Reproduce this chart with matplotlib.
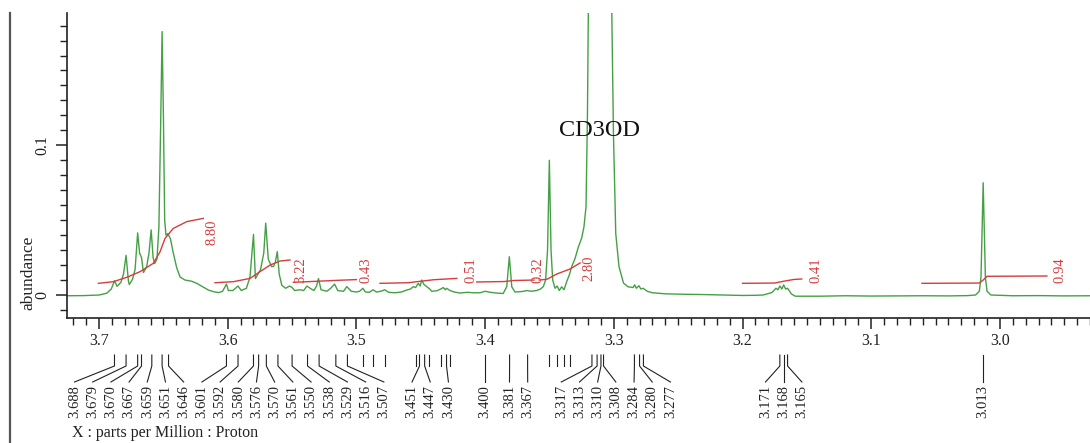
import matplotlib
matplotlib.use("Agg")
import matplotlib.pyplot as plt
import matplotlib.transforms as mtransforms
from matplotlib.lines import Line2D
from matplotlib.ticker import MultipleLocator, FixedLocator

plt.rcParams["font.family"] = ["Liberation Serif", "DejaVu Serif"]

# 1H NMR trace (ppm, abundance)
spec_ppm = [3.725, 3.712, 3.700, 3.694, 3.6905, 3.6880, 3.6860, 3.6830, 3.6810, 3.6790,
            3.6772, 3.6765, 3.6740, 3.6720, 3.6700, 3.6685, 3.6670, 3.6655, 3.6630, 3.6612,
            3.6595, 3.6580, 3.6568, 3.6550, 3.6535, 3.6522, 3.6510, 3.6500, 3.6490, 3.6480,
            3.6465, 3.6445, 3.6423, 3.6396, 3.6370, 3.6332, 3.6300, 3.6280, 3.6241, 3.6190,
            3.6150, 3.6110, 3.6070, 3.6040, 3.6010, 3.5995, 3.5960, 3.5940, 3.5920, 3.5895,
            3.5855, 3.5827, 3.5800, 3.5785, 3.5765, 3.5745, 3.5720, 3.5705, 3.5685, 3.5660,
            3.5645, 3.5630, 3.5615, 3.5600, 3.5580, 3.5550, 3.5520, 3.5500, 3.5480, 3.5440,
            3.5410, 3.5385, 3.5360, 3.5330, 3.5310, 3.5295, 3.5275, 3.5230, 3.5200, 3.5170,
            3.5145, 3.5100, 3.5075, 3.5040, 3.5000, 3.4975, 3.4950, 3.4930, 3.4900, 3.4870,
            3.4845, 3.4810, 3.4780, 3.4750, 3.4700, 3.4650, 3.4610, 3.4580, 3.4558, 3.4540,
            3.4520, 3.4505, 3.4493, 3.4475, 3.4454, 3.4430, 3.4415, 3.4376, 3.4345, 3.4325,
            3.4310, 3.4300, 3.4273, 3.4240, 3.4195, 3.4140, 3.4092, 3.4040, 3.4000, 3.3960,
            3.3910, 3.3860, 3.3832, 3.3812, 3.3793, 3.3768, 3.3730, 3.3700, 3.3677, 3.3640,
            3.3600, 3.3570, 3.3548, 3.3530, 3.3515, 3.3501, 3.3488, 3.3475, 3.3457, 3.3440,
            3.3424, 3.3405, 3.3387, 3.3366, 3.3346, 3.3327, 3.3301, 3.3276, 3.3250, 3.3232,
            3.3216, 3.3205, 3.3195, 3.3170, 3.3130, 3.3100, 3.3080, 3.3050, 3.3025, 3.3016,
            3.3003, 3.2985, 3.2960, 3.2925, 3.2890, 3.2850, 3.2838, 3.2825, 3.2805, 3.2790,
            3.2772, 3.2740, 3.2700, 3.2600, 3.2450, 3.2300, 3.2150, 3.2000, 3.1900, 3.1840,
            3.1773, 3.1740, 3.1725, 3.1710, 3.1695, 3.1680, 3.1665, 3.1650, 3.1620, 3.1590,
            3.1400, 3.1200, 3.1000, 3.0800, 3.0600, 3.0400, 3.0250, 3.0190, 3.0160, 3.0147,
            3.0138, 3.0130, 3.0122, 3.0113, 3.0100, 3.0070, 2.9900, 2.9700, 2.9500, 2.9300]
spec_abund = [-0.0005, -0.0004, 0.0000, 0.0012, 0.0040, 0.0095, 0.0058, 0.0085, 0.0140, 0.0265,
              0.0095, 0.0070, 0.0105, 0.0170, 0.0415, 0.0280, 0.0250, 0.0150, 0.0190, 0.0280,
              0.0435, 0.0250, 0.0210, 0.0240, 0.0450, 0.1100, 0.1760, 0.1200, 0.0500, 0.0400,
              0.0410, 0.0375, 0.0280, 0.0180, 0.0120, 0.0100, 0.0095, 0.0092, 0.0078, 0.0053,
              0.0033, 0.0022, 0.0016, 0.0025, 0.0073, 0.0030, 0.0030, 0.0045, 0.0060, 0.0030,
              0.0045, 0.0120, 0.0405, 0.0110, 0.0140, 0.0170, 0.0280, 0.0480, 0.0240, 0.0190,
              0.0190, 0.0220, 0.0290, 0.0140, 0.0065, 0.0045, 0.0060, 0.0050, 0.0030, 0.0035,
              0.0030, 0.0060, 0.0045, 0.0030, 0.0060, 0.0110, 0.0035, 0.0025, 0.0045, 0.0073,
              0.0030, 0.0025, 0.0056, 0.0025, 0.0020, 0.0025, 0.0045, 0.0020, 0.0018, 0.0035,
              0.0020, 0.0025, 0.0035, 0.0018, 0.0015, 0.0020, 0.0033, 0.0040, 0.0056, 0.0050,
              0.0078, 0.0060, 0.0100, 0.0070, 0.0056, 0.0040, 0.0025, 0.0028, 0.0040, 0.0050,
              0.0035, 0.0045, 0.0030, 0.0020, 0.0013, 0.0018, 0.0015, 0.0015, 0.0025, 0.0018,
              0.0013, 0.0010, 0.0055, 0.0256, 0.0055, 0.0020, 0.0022, 0.0025, 0.0030, 0.0025,
              0.0030, 0.0040, 0.0056, 0.0100, 0.0300, 0.0900, 0.0300, 0.0100, 0.0045, 0.0060,
              0.0030, 0.0055, 0.0035, 0.0090, 0.0134, 0.0190, 0.0245, 0.0320, 0.0380, 0.0456,
              0.0590, 0.1200, 0.2200, 0.4000, 0.7000, 0.9000, 0.7000, 0.4500, 0.2800, 0.1900,
              0.1080, 0.0410, 0.0190, 0.0080, 0.0055, 0.0050, 0.0068, 0.0045, 0.0062, 0.0040,
              0.0045, 0.0025, 0.0015, 0.0008, 0.0005, 0.0003, 0.0000, -0.0003, -0.0002, 0.0000,
              0.0016, 0.0045, 0.0035, 0.0060, 0.0040, 0.0067, 0.0040, 0.0045, 0.0007, -0.0008,
              -0.0008, -0.0005, -0.0007, -0.0006, -0.0005, -0.0006, -0.0004, 0.0000, 0.0025, 0.0120,
              0.0450, 0.0750, 0.0450, 0.0120, 0.0025, 0.0000, -0.0005, -0.0004, -0.0006, -0.0005]

# picked peaks (labelled) and extra picks without a label
peak_ppm = [3.688, 3.679, 3.670, 3.667, 3.659, 3.651, 3.646, 3.601, 3.592, 3.580,
            3.576, 3.570, 3.561, 3.550, 3.538, 3.529, 3.516, 3.507, 3.451, 3.447,
            3.430, 3.400, 3.381, 3.367, 3.317, 3.313, 3.310, 3.308, 3.284, 3.280,
            3.277, 3.171, 3.168, 3.165, 3.013]
unlabeled_ppm = [3.495, 3.487, 3.478, 3.454, 3.444, 3.434, 3.427, 3.350, 3.344, 3.339, 3.334]

# integral curves
int1_ppm = [3.7005, 3.6889, 3.6785, 3.6681, 3.6578, 3.6526, 3.6487, 3.6423, 3.6319, 3.6190]
int1_y = [0.0078, 0.0089, 0.0118, 0.0156, 0.0212, 0.0289, 0.0379, 0.0445, 0.0490, 0.0512]
int2_ppm = [3.6099, 3.5956, 3.5827, 3.5749, 3.5671, 3.5594, 3.5516]
int2_y = [0.0082, 0.0089, 0.0111, 0.0156, 0.0200, 0.0227, 0.0234]
int3_ppm = [3.5490, 3.5300, 3.5150, 3.5000]
int3_y = [0.0085, 0.0092, 0.0098, 0.0103]
int4_ppm = [3.4817, 3.4600, 3.4500, 3.4400, 3.4220]
int4_y = [0.0078, 0.0082, 0.0092, 0.0102, 0.0111]
int5_ppm = [3.4065, 3.3850, 3.3780, 3.3620]
int5_y = [0.0087, 0.0090, 0.0097, 0.0100]
int6_ppm = [3.3580, 3.3520, 3.3444, 3.3340, 3.3262]
int6_y = [0.0100, 0.0105, 0.0140, 0.0174, 0.0214]
int7_ppm = [3.2000, 3.1750, 3.1680, 3.1600, 3.1540]
int7_y = [0.0078, 0.0080, 0.0092, 0.0104, 0.0107]
int8_ppm = [3.0606, 3.0160, 3.0130, 3.0100, 2.9635]
int8_y = [0.0078, 0.0080, 0.0100, 0.0125, 0.0127]
integral_values = ["8.80", "3.22", "0.43", "0.51", "0.32", "2.80", "0.41", "0.94"]
# where each integral value is written (ppm, abundance)
integral_text_ppm = [3.6126, 3.5430, 3.4925, 3.4110, 3.3590, 3.3193, 3.1430, 2.9533]
integral_text_y = [0.0421, 0.0167, 0.0167, 0.0167, 0.0167, 0.0180, 0.0167, 0.0167]

GREEN = "#45a045"
RED = "#d63c3c"
INK = "#222222"

W, H = 1090, 443
fig = plt.figure(figsize=(W / 100, H / 100), dpi=100)
ax = fig.add_axes([67 / W, 125 / H, 1 - 67 / W, 305 / H])

ax.plot(spec_ppm, spec_abund, color=GREEN, lw=1.0)

curves = [(int1_ppm, int1_y), (int2_ppm, int2_y), (int3_ppm, int3_y), (int4_ppm, int4_y),
          (int5_ppm, int5_y), (int6_ppm, int6_y), (int7_ppm, int7_y), (int8_ppm, int8_y)]
for (cx, cy) in curves:
    ax.plot(cx, cy, color=RED, lw=1.0)
for val, tx, ty in zip(integral_values, integral_text_ppm, integral_text_y):
    ax.text(tx, ty, val, color=RED, rotation=90, ha="center", va="center", fontsize=10.5)

ax.text(3.3115, 0.1096, "CD3OD", ha="center", va="center", fontsize=17.5, color="#111111")

ax.set_xlim(3.7249, 2.930)
ax.set_ylim(-0.01536, 0.1884)

ax.xaxis.set_major_locator(FixedLocator([3.7, 3.6, 3.5, 3.4, 3.3, 3.2, 3.1, 3.0]))
ax.set_xticklabels(["3.7", "3.6", "3.5", "3.4", "3.3", "3.2", "3.1", "3.0"])
ax.xaxis.set_minor_locator(MultipleLocator(0.01))
ax.yaxis.set_major_locator(FixedLocator([0, 0.1]))
ax.set_yticklabels(["0", "0.1"], rotation=90, va="center")
ax.yaxis.set_minor_locator(MultipleLocator(0.01))
ax.tick_params(which="major", length=8, width=1.1, color=INK, labelsize=11.5, labelcolor=INK)
ax.tick_params(which="minor", length=5, width=1.0, color=INK)
ax.tick_params(axis="x", which="major", pad=3)
ax.tick_params(axis="y", which="major", pad=4)
for s in ("top", "right"):
    ax.spines[s].set_visible(False)
for s in ("left", "bottom"):
    ax.spines[s].set_color(INK)
    ax.spines[s].set_linewidth(1.2)

# peak pick labels, spread so they do not overlap
gap = 18.2 / 1287.0
groups = [[p] for p in sorted(peak_ppm, reverse=True)]


def group_labels(g):
    c = sum(g) / len(g)
    n = len(g)
    return [c + gap * ((n - 1) / 2 - k) for k in range(n)]


merged = True
while merged:
    merged = False
    for i in range(len(groups) - 1):
        if group_labels(groups[i])[-1] - group_labels(groups[i + 1])[0] < gap - 1e-9:
            groups[i] = groups[i] + groups[i + 1]
            del groups[i + 1]
            merged = True
            break

blend = mtransforms.blended_transform_factory(ax.transData, fig.transFigure)


def fy(px):
    return 1 - px / H


for g in groups:
    for p, lx in zip(g, group_labels(g)):
        ax.add_line(Line2D([p, p, lx], [fy(355), fy(366), fy(382)], transform=blend,
                           color=INK, lw=0.8, clip_on=False))
        ax.text(lx, fy(385), f"{p:.3f}", transform=blend, rotation=90, ha="center",
                va="top", fontsize=10.5, color=INK, clip_on=False)
for p in unlabeled_ppm:
    ax.add_line(Line2D([p, p], [fy(355), fy(366)], transform=blend,
                       color=INK, lw=0.8, clip_on=False))

fig.text(72 / W, fy(433), "X : parts per Million : Proton", ha="left", va="center",
         fontsize=11.5, color=INK)
fig.text(28 / W, fy(273), "abundance", rotation=90, ha="center", va="center",
         fontsize=12.5, color=INK)
fig.add_artist(Line2D([10 / W, 10 / W], [0, fy(13)], transform=fig.transFigure,
                      color="#555555", lw=1.6))

fig.savefig("out.png", dpi=100)
